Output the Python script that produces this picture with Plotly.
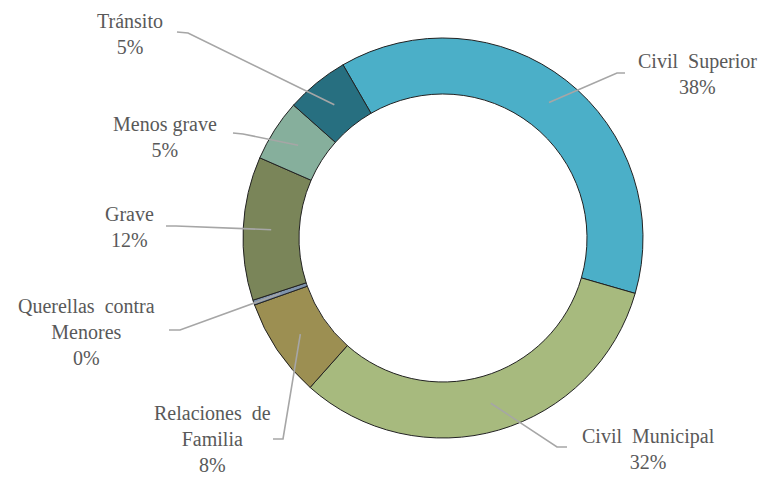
import math
import plotly.graph_objects as go

# ---- data ----
categories = ["Civil Superior", "Civil Municipal", "Relaciones de Familia",
              "Querellas contra Menores", "Grave", "Menos grave", "Tránsito"]
values = [37.8, 32.1, 8.0, 0.4, 11.6, 5.0, 5.1]
label_text = ["Civil  Superior", "Civil  Municipal", "Relaciones  de<br>Familia",
              "Querellas  contra<br>Menores", "Grave", "Menos grave", "Tránsito"]
colors = ["#4BAFC8", "#A7BA7E", "#9C8F52", "#7F93AB", "#7A8559", "#86AF9C", "#276F80"]

# ---- layout (pixels) ----
W, H = 762, 479
CX, CY, R = 443, 238, 200
HOLE = 0.72
ROT = 330
FS = 20

# label centre (x, y of first line) and elbow point for each slice
label_pos = [(697, 61), (648, 436), (212, 413), (86, 306), (129, 214), (165, 124), (130, 21)]
elbows = [[(625, 73), (617, 73)],
          [(567, 447), (557, 447)],
          [(273, 439), (283, 439)],
          [(169, 330), (180, 330)],
          [(166, 226), (176, 226)],
          [(233, 133), (243, 134)],
          [(177, 32), (188, 33)]]

FONT = "'Liberation Serif', 'Times New Roman', serif"


def px(x):
    return x / W


def py(y):
    return 1 - y / H


fig = go.Figure(go.Pie(
    labels=categories, values=values, sort=False, direction="clockwise",
    rotation=ROT, hole=HOLE, textinfo="none", hoverinfo="label+percent",
    marker=dict(colors=colors, line=dict(color="#222222", width=1)),
    domain=dict(x=[px(CX - R), px(CX + R)], y=[py(CY + R), py(CY - R)]),
    showlegend=False,
))

total = sum(values)
cum = 0.0
shapes = []
annotations = []
rmid = R * (1 + HOLE) / 2
for i, v in enumerate(values):
    mid = ROT + (cum + v / 2) / total * 360
    cum += v
    a = math.radians(mid)
    ex, ey = CX + rmid * math.sin(a), CY - rmid * math.cos(a)
    pts = elbows[i] + [(ex, ey)]
    path = "M " + " L ".join(f"{px(x):.5f},{py(y):.5f}" for x, y in pts)
    shapes.append(dict(type="path", xref="paper", yref="paper", path=path,
                       line=dict(color="#A6A6A6", width=1.6)))
    pct = round(v / total * 100)
    lx, ly = label_pos[i]
    annotations.append(dict(
        x=px(lx), y=py(ly - 13), xref="paper", yref="paper",
        xanchor="center", yanchor="top", showarrow=False, align="center",
        text=f"{label_text[i]}<br>{pct}%",
        font=dict(family=FONT, size=FS, color="#595959"),
    ))

fig.update_layout(
    width=W, height=H, margin=dict(l=0, r=0, t=0, b=0),
    paper_bgcolor="white", plot_bgcolor="white",
    font=dict(family=FONT),
    shapes=shapes, annotations=annotations,
)
fig.write_html("out.html", config={"displayModeBar": False},
               post_script="document.body.style.margin='0';")
